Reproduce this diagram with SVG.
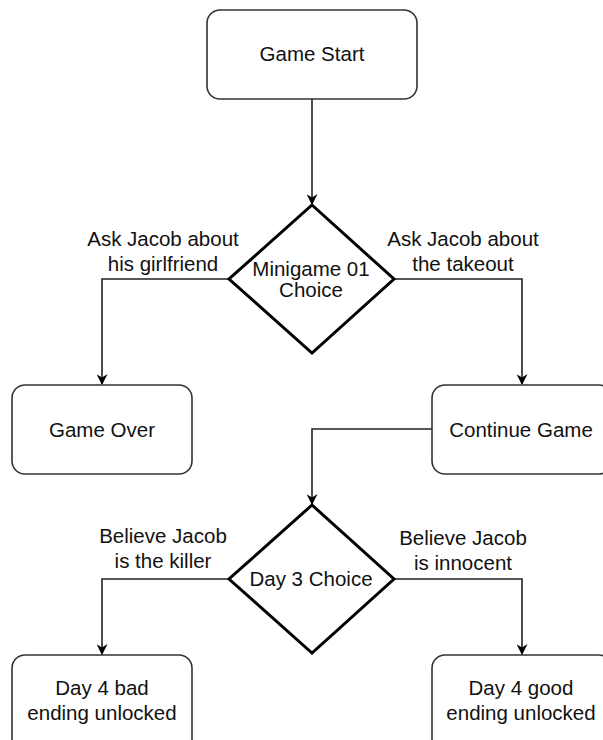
<svg xmlns="http://www.w3.org/2000/svg" width="603" height="740" viewBox="0 0 603 740">
<style>
.box{fill:#fff;stroke:#333;stroke-width:1.6}
.dia{fill:#fff;stroke:#000;stroke-width:3}
.conn{fill:none;stroke:#222;stroke-width:1.6}
text{font-family:"Liberation Sans",Arial,sans-serif;font-size:20.5px;fill:#111;text-anchor:middle}
</style>
<defs>
<marker id="arr" viewBox="0 0 10 10" refX="9" refY="5" markerWidth="11" markerHeight="11" markerUnits="userSpaceOnUse" orient="auto">
<path d="M0,0 L10,5 L0,10 L3,5 Z" fill="#000"/>
</marker>
</defs>
<rect width="603" height="740" fill="#fff"/>
<g id="connectors">
<path class="conn" d="M312,99 V204" marker-end="url(#arr)"/>
<path class="conn" d="M229,279 H102 V384" marker-end="url(#arr)"/>
<path class="conn" d="M394,279 H522 V384" marker-end="url(#arr)"/>
<path class="conn" d="M432,429 H312 V504" marker-end="url(#arr)"/>
<path class="conn" d="M229,579 H102 V654" marker-end="url(#arr)"/>
<path class="conn" d="M394,579 H522 V654" marker-end="url(#arr)"/>
</g>
<g id="labels">
<text x="163" y="246">Ask Jacob about</text>
<text x="163" y="271">his girlfriend</text>
<text x="463" y="246">Ask Jacob about</text>
<text x="463" y="271">the takeout</text>
<text x="163" y="543">Believe Jacob</text>
<text x="163" y="568">is the killer</text>
<text x="463" y="545">Believe Jacob</text>
<text x="463" y="570">is innocent</text>
</g>
<g id="game-start">
<rect class="box" x="207" y="10" width="210" height="89" rx="13"/>
<text x="312" y="61">Game Start</text>
</g>
<g id="minigame-choice">
<polygon class="dia" points="312,205 394,279 312,353 229,279"/>
<text x="311" y="276">Minigame 01</text>
<text x="311" y="297">Choice</text>
</g>
<g id="game-over">
<rect class="box" x="12" y="385" width="180" height="89" rx="13"/>
<text x="102" y="437">Game Over</text>
</g>
<g id="continue-game">
<rect class="box" x="432" y="385" width="180" height="89" rx="13"/>
<text x="521" y="437">Continue Game</text>
</g>
<g id="day3-choice">
<polygon class="dia" points="312,505 394,579 312,653 229,579"/>
<text x="311" y="586">Day 3 Choice</text>
</g>
<g id="bad-ending">
<rect class="box" x="12" y="655" width="180" height="100" rx="13"/>
<text x="102" y="695">Day 4 bad</text>
<text x="102" y="720">ending unlocked</text>
</g>
<g id="good-ending">
<rect class="box" x="432" y="655" width="180" height="100" rx="13"/>
<text x="521" y="695">Day 4 good</text>
<text x="521" y="720">ending unlocked</text>
</g>
</svg>
